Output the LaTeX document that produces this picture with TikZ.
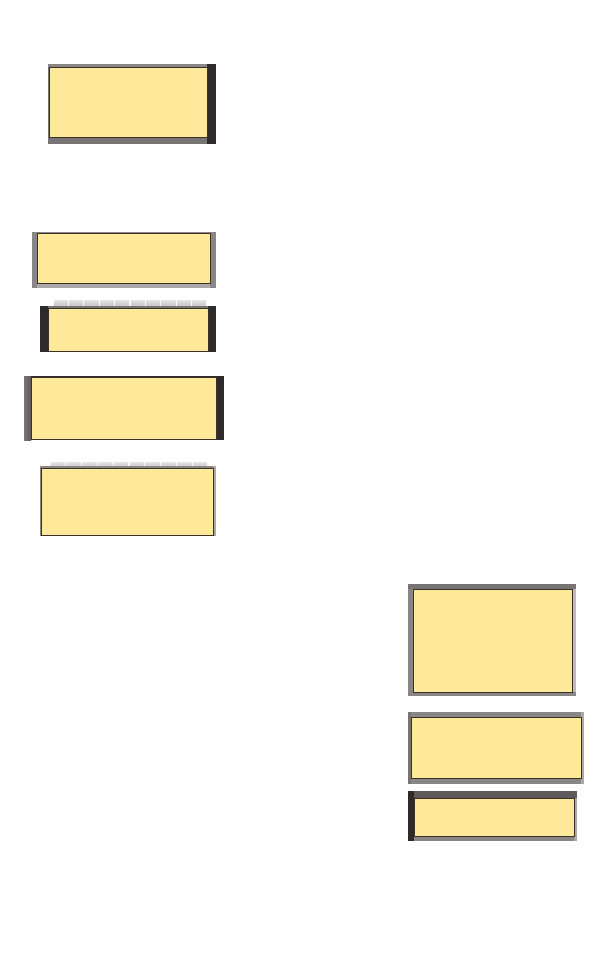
\documentclass[tikz,border=0pt]{standalone}
\usepackage{tikz}
\definecolor{padfill}{HTML}{FEE99B}
\definecolor{padline}{HTML}{3A3228}
\definecolor{sdark}{HTML}{2E2A2A}
\definecolor{sdarkgray}{HTML}{5E5A5A}
\definecolor{sgray}{HTML}{787474}
\definecolor{smid}{HTML}{8A8686}
\definecolor{slight}{HTML}{ACA8A8}
\definecolor{slighter}{HTML}{C0BCBC}
\definecolor{combtop}{HTML}{E4E4E4}
\definecolor{combbot}{HTML}{C2C2C2}
\tikzset{
  padbox/.style={fill=padfill, draw=padline, line width=0.9pt},
  combseg/.style={top color=combtop, bottom color=combbot, draw=none}
}
\newcommand{\sidefill}[5]{\fill[#5] (#1,#2) rectangle (#3,#4);}
\newcommand{\padat}[5]{\path[padbox] (#1,#2) rectangle (#3,#4); \coordinate (#5) at ($(#1,#2)!0.5!(#3,#4)$);}
\newcommand{\comb}[4]{%
  \pgfmathsetmacro{\cw}{(#2-#1)/10}%
  \foreach \i in {0,...,9}{%
    \shade[combseg] ({#1+\i*\cw+0.8},#3) rectangle ({#1+(\i+1)*\cw-0.8},#4);}}
\usetikzlibrary{calc}
\begin{document}
\begin{tikzpicture}[x=1pt,y=-1pt]
\useasboundingbox[fill=white] (0,0) rectangle (612,954);
% box 1
\sidefill{48}{64}{216}{144}{sgray}
\sidefill{48}{64}{216}{67}{smid}
\sidefill{207}{64}{216}{144}{sdark}
\sidefill{48}{137}{207}{144}{sgray}
\padat{49}{67}{207}{137}{b1}
% box 2
\sidefill{32}{232}{216}{288}{smid}
\sidefill{32}{283}{216}{288}{slight}
\sidefill{32}{232}{37}{288}{smid}
\sidefill{210}{232}{216}{288}{smid}
\padat{37}{233}{210}{283}{b2}
% box 3
\comb{53}{207}{300}{306.5}
\sidefill{40}{306}{216}{352}{sgray}
\sidefill{40}{306}{48}{352}{sdark}
\sidefill{208}{306}{216}{352}{sdark}
\padat{48}{308.5}{208}{351}{b3}
% box 4
\sidefill{24}{376}{224}{440}{sdark}
\shade[left color=sgray, right color=sdarkgray] (24,376) rectangle (31,440);
\sidefill{216}{376}{224}{440}{sdark}
\padat{31}{377}{216}{439}{b4}
% box 5
\comb{50}{208}{462}{468}
\sidefill{40}{466}{216}{536}{smid}
\sidefill{213}{466}{216}{536}{slight}
\padat{41}{468}{213}{535}{b5}
% box 6
\sidefill{408}{584}{576}{696}{smid}
\sidefill{408}{584}{576}{589}{sgray}
\sidefill{572}{589}{576}{696}{slighter}
\sidefill{408}{692}{576}{696}{smid}
\padat{413}{589}{572}{692}{b6}
% box 7
\sidefill{408}{712}{584}{784}{smid}
\sidefill{408}{712}{411}{784}{sgray}
\sidefill{581}{712}{584}{784}{slight}
\padat{411}{717}{581}{778}{b7}
% box 8
\sidefill{408}{791}{577}{841}{smid}
\sidefill{408}{791}{577}{798}{sdarkgray}
\sidefill{574}{798}{577}{841}{slight}
\sidefill{408}{791}{414}{841}{sdark}
\padat{414}{798}{574}{836}{b8}
\end{tikzpicture}
\end{document}
